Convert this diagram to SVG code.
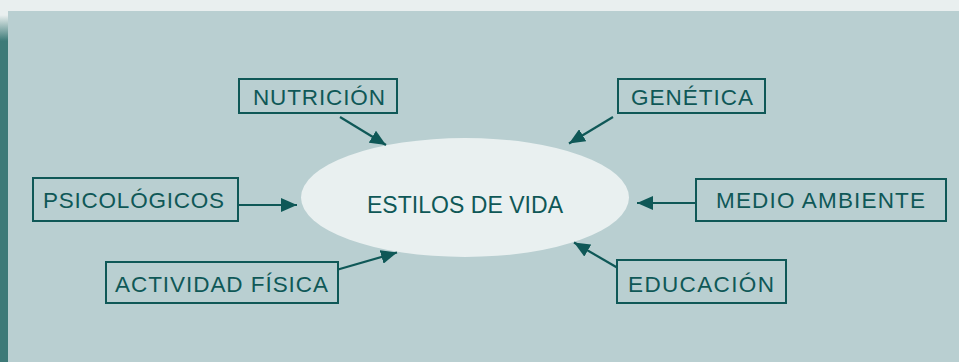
<svg xmlns="http://www.w3.org/2000/svg" width="959" height="362" viewBox="0 0 959 362">
<style>
.box{fill:none;stroke:#0f5857;stroke-width:2}
.lbl{font-family:"Liberation Sans",Arial,sans-serif;font-size:22.5px;fill:#0f5857}
.conn{stroke:#0f5857;stroke-width:2.2;fill:none;marker-end:url(#ah)}
</style>
<defs>
<marker id="ah" markerUnits="userSpaceOnUse" markerWidth="17" markerHeight="14" refX="16" refY="7" orient="auto">
<path d="M0,0 L16,7 L0,14 z" fill="#0f5857"/>
</marker>
<linearGradient id="bar" x1="0" y1="0" x2="0" y2="1" gradientUnits="objectBoundingBox">
<stop offset="0" stop-color="#e9efef"/>
<stop offset="1" stop-color="#3d7a78"/>
</linearGradient>
</defs>
<rect x="0" y="0" width="959" height="362" fill="#b9cfd1"/>
<rect x="0" y="0" width="959" height="11" fill="#e9efef"/>
<rect x="0" y="11" width="8" height="4" fill="#e9efef"/>
<rect x="0" y="15" width="8" height="26" fill="url(#bar)"/>
<rect x="0" y="41" width="8" height="321" fill="#3d7a78"/>

<g id="center">
<ellipse cx="465" cy="197.5" rx="164" ry="59.5" fill="#e9f0f0"/>
<text class="lbl" x="367" y="213" style="font-size:23px" textLength="196">ESTILOS DE VIDA</text>
</g>
<g id="nutricion">
<rect class="box" x="239" y="79" width="158" height="34"/>
<text class="lbl" x="253" y="105" textLength="132">NUTRICIÓN</text>
</g>
<g id="genetica">
<rect class="box" x="618" y="79" width="147" height="34"/>
<text class="lbl" x="631" y="105" textLength="122">GENÉTICA</text>
</g>
<g id="psicologicos">
<rect class="box" x="33" y="178" width="205" height="43"/>
<text class="lbl" x="43" y="208" textLength="181">PSICOLÓGICOS</text>
</g>
<g id="medio">
<rect class="box" x="696" y="179" width="250" height="42"/>
<text class="lbl" x="716" y="208" textLength="209">MEDIO AMBIENTE</text>
</g>
<g id="actividad">
<rect class="box" x="106" y="262" width="232" height="41"/>
<text class="lbl" x="115" y="291.5" textLength="213">ACTIVIDAD FÍSICA</text>
</g>
<g id="educacion">
<rect class="box" x="617" y="260" width="169" height="43"/>
<text class="lbl" x="628" y="291.5" textLength="146">EDUCACIÓN</text>
</g>
<g id="connectors">
<line class="conn" x1="340" y1="117" x2="386" y2="145"/>
<line class="conn" x1="613" y1="117" x2="569" y2="143.5"/>
<line class="conn" x1="238" y1="205" x2="297" y2="205"/>
<line class="conn" x1="696" y1="203" x2="637" y2="203"/>
<line class="conn" x1="338" y1="269.5" x2="397" y2="252.5"/>
<line class="conn" x1="617" y1="267.5" x2="574" y2="242.5"/>
</g>
</svg>
